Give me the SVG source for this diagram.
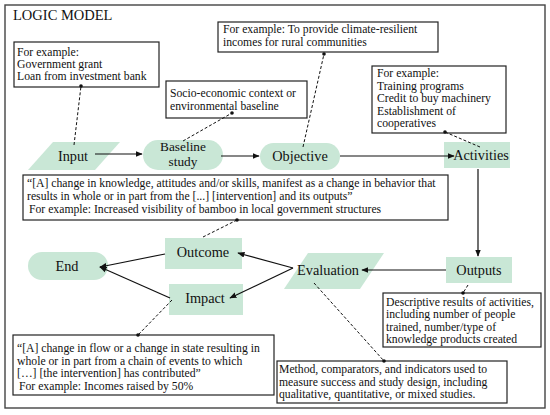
<svg xmlns="http://www.w3.org/2000/svg" width="550" height="415" viewBox="0 0 550 415">
<defs>
<style>
.t{font-family:"Liberation Serif","Times New Roman",serif;fill:#111}
.n{font-size:14.3px}
.s{font-size:11.7px}
.box{fill:#fff;stroke:#222;stroke-width:1.2}
.node{fill:#c9e7d6;stroke:none}
.ln{stroke:#111;stroke-width:1.2;fill:none}
.ds{stroke:#111;stroke-width:1;fill:none;stroke-dasharray:3,2}
.dot{fill:#111}
</style>
<marker id="ah" viewBox="0 0 10 10" refX="9" refY="5" markerWidth="6" markerHeight="6" orient="auto">
<path d="M0,1 L10,5 L0,9 z" fill="#111"/>
</marker>
</defs>
<rect x="0" y="0" width="550" height="415" fill="#fff"/>
<rect x="5" y="5" width="540" height="403" fill="none" stroke="#444" stroke-width="1.4"/>
<text class="t" x="13" y="20" font-size="14.5">LOGIC MODEL</text>

<g id="note-input">
<rect class="box" x="14" y="42" width="145" height="45"/>
<text class="t s" x="17" y="56">For example:</text>
<text class="t s" x="17" y="68">Government grant</text>
<text class="t s" x="17" y="80">Loan from investment bank</text>
</g>
<g id="note-objective">
<rect class="box" x="218" y="22" width="220" height="30"/>
<text class="t s" x="223" y="33">For example: To provide climate-resilient</text>
<text class="t s" x="223" y="46">incomes for rural communities</text>
</g>
<g id="note-baseline">
<rect class="box" x="166" y="81" width="141" height="37"/>
<text class="t s" x="170" y="97">Socio-economic context or</text>
<text class="t s" x="170" y="110">environmental baseline</text>
</g>
<g id="note-activities">
<rect class="box" x="372" y="66" width="134" height="67"/>
<text class="t s" x="377" y="77">For example:</text>
<text class="t s" x="377" y="89.5">Training programs</text>
<text class="t s" x="377" y="102">Credit to buy machinery</text>
<text class="t s" x="377" y="114.5">Establishment of</text>
<text class="t s" x="377" y="127">cooperatives</text>
</g>
<g id="note-outcome">
<rect class="box" x="23" y="175" width="425" height="45"/>
<text class="t s" x="27" y="187">“[A] change in knowledge, attitudes and/or skills, manifest as a change in behavior that</text>
<text class="t s" x="27" y="200">results in whole or in part from the [...] [intervention] and its outputs”</text>
<text class="t s" x="29" y="213">For example: Increased visibility of bamboo in local government structures</text>
</g>
<g id="note-impact">
<rect class="box" x="13" y="335" width="261" height="60"/>
<text class="t s" x="17" y="352">“[A] change in flow or a change in state resulting in</text>
<text class="t s" x="17" y="364.5">whole or in part from a chain of events to which</text>
<text class="t s" x="17" y="377">[…] [the intervention] has contributed”</text>
<text class="t s" x="19" y="389.5">For example: Incomes raised by 50%</text>
</g>
<g id="note-outputs">
<rect class="box" x="383" y="293" width="158" height="54"/>
<text class="t s" x="386" y="306">Descriptive results of activities,</text>
<text class="t s" x="386" y="318">including number of people</text>
<text class="t s" x="386" y="330.5">trained, number/type of</text>
<text class="t s" x="386" y="343">knowledge products created</text>
</g>
<g id="note-evaluation">
<rect class="box" x="277" y="361" width="230" height="42"/>
<text class="t s" x="279" y="373">Method, comparators, and indicators used to</text>
<text class="t s" x="279" y="385.5">measure success and study design, including</text>
<text class="t s" x="279" y="398">qualitative, quantitative, or mixed studies.</text>
</g>

<g id="input">
<polygon class="node" points="53,142 120,142 95,170 28,170"/>
<text class="t n" x="73" y="161" text-anchor="middle">Input</text>
</g>
<g id="baseline">
<rect class="node" x="143" y="140" width="80" height="30" rx="15"/>
<text class="t" x="183" y="150.5" font-size="13.3" text-anchor="middle">Baseline</text>
<text class="t" x="183" y="166" font-size="13.3" text-anchor="middle">study</text>
</g>
<g id="objective">
<rect class="node" x="260" y="143" width="80" height="27" rx="13.5"/>
<text class="t n" x="300" y="161" text-anchor="middle">Objective</text>
</g>
<g id="activities">
<rect class="node" x="444" y="142" width="66" height="26"/>
<text class="t n" x="481" y="160" text-anchor="middle">Activities</text>
</g>
<g id="outputs">
<rect class="node" x="446" y="257" width="66" height="26"/>
<text class="t n" x="479" y="275" text-anchor="middle">Outputs</text>
</g>
<g id="evaluation">
<polygon class="node" points="308,253 384,253 360,289 284,289"/>
<text class="t n" x="328" y="275" text-anchor="middle">Evaluation</text>
</g>
<g id="outcome">
<rect class="node" x="165" y="238" width="77" height="31"/>
<text class="t n" x="203" y="257" text-anchor="middle">Outcome</text>
</g>
<g id="impact">
<rect class="node" x="169" y="284" width="74" height="31"/>
<text class="t n" x="205" y="303" text-anchor="middle">Impact</text>
</g>
<g id="end">
<rect class="node" x="28" y="252" width="80" height="28" rx="14"/>
<text class="t n" x="67" y="271" text-anchor="middle">End</text>
</g>

<g id="connectors">
<line class="ln" x1="95" y1="154" x2="142" y2="154" marker-end="url(#ah)"/>
<line class="ln" x1="221" y1="156" x2="259" y2="156" marker-end="url(#ah)"/>
<line class="ln" x1="340" y1="156" x2="454" y2="156" marker-end="url(#ah)"/>
<line class="ln" x1="478" y1="169" x2="478" y2="256" marker-end="url(#ah)"/>
<line class="ln" x1="446" y1="270" x2="362" y2="270" marker-end="url(#ah)"/>
<line class="ln" x1="293" y1="268" x2="238" y2="253" marker-end="url(#ah)"/>
<line class="ln" x1="293" y1="268" x2="230" y2="298" marker-end="url(#ah)"/>
<line class="ln" x1="165" y1="254" x2="100" y2="267" marker-end="url(#ah)"/>
<line class="ln" x1="170" y1="298" x2="100" y2="267" marker-end="url(#ah)"/>
<line class="ds" x1="74" y1="145" x2="81" y2="86"/>
<circle class="dot" cx="81" cy="86" r="1.8"/>
<line class="ds" x1="183" y1="141" x2="232" y2="113"/>
<circle class="dot" cx="232" cy="113" r="1.8"/>
<line class="ds" x1="303" y1="147" x2="324" y2="54"/>
<circle class="dot" cx="324" cy="54" r="1.8"/>
<line class="ds" x1="480" y1="147" x2="445" y2="132"/>
<circle class="dot" cx="445" cy="132" r="1.8"/>
<line class="ds" x1="203" y1="237" x2="237" y2="220"/>
<circle class="dot" cx="237" cy="220" r="1.8"/>
<line class="ds" x1="172" y1="300" x2="138" y2="335"/>
<circle class="dot" cx="138" cy="335" r="1.8"/>
<line class="ds" x1="468" y1="285" x2="463" y2="293"/>
<circle class="dot" cx="463" cy="293" r="1.8"/>
<line class="ds" x1="314" y1="283" x2="384" y2="361"/>
<circle class="dot" cx="384" cy="361" r="1.8"/>
</g>
</svg>
